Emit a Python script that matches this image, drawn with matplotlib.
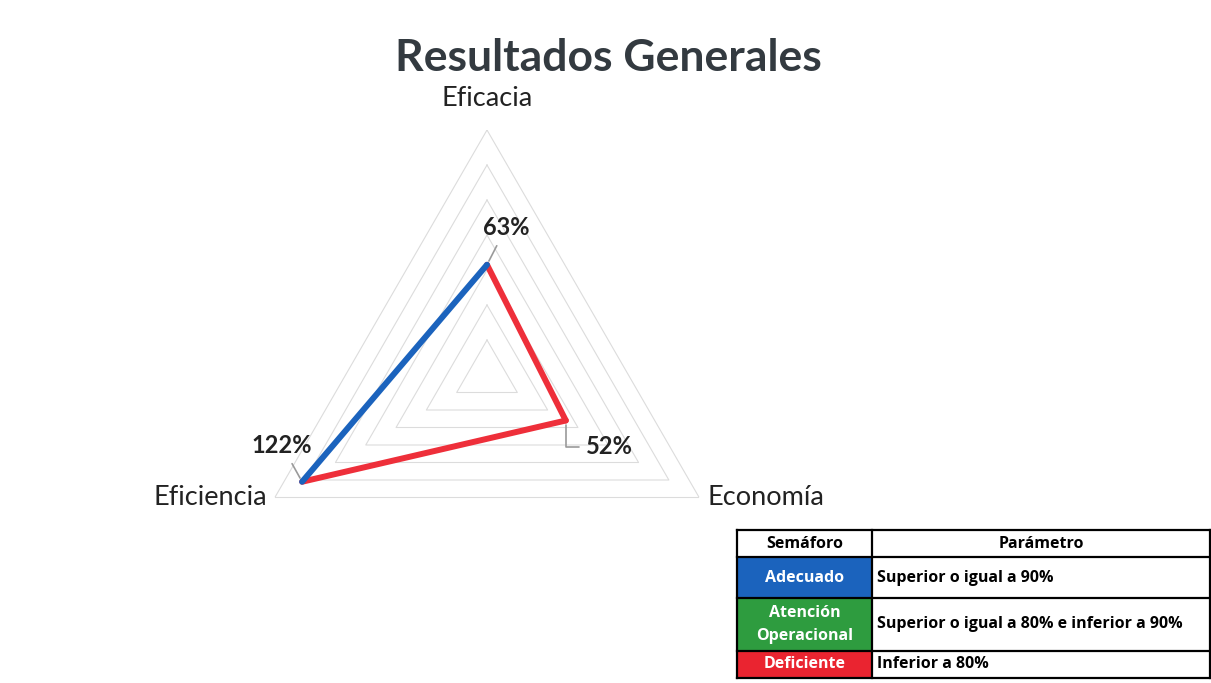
import numpy as np
import matplotlib.pyplot as plt
from matplotlib.patches import Rectangle

# Radar data
categories = ['Eficacia', 'Economía', 'Eficiencia']
values = [0.63, 0.52, 1.22]
value_labels = ['63%', '52%', '122%']
# colour of the segment that starts at each point
segment_colors = ['#ee2f3a', '#ee2f3a', '#1b63bd']
grid_levels = [0.2, 0.4, 0.6, 0.8, 1.0, 1.2, 1.4]

# Traffic-light table
table_header = ['Semáforo', 'Parámetro']
status_names = ['Adecuado', 'Atención\nOperacional', 'Deficiente']
status_colors = ['#1b63bd', '#2e9c3f', '#ea2430']
status_params = ['Superior o igual a 90%',
                 'Superior o igual a 80% e inferior a 90%',
                 'Inferior a 80%']

W, H = 1211, 683
fig = plt.figure(figsize=(W / 100, H / 100), dpi=100)
fig.patch.set_facecolor('white')

# polar axes: centre (487, 375) px, radius 245 px for 140%
cx, cy, R = 487, 375, 245
ax = fig.add_axes([(cx - R) / W, 1 - (cy + R) / H, 2 * R / W, 2 * R / H],
                  projection='polar')
ax.set_theta_zero_location('N')
ax.set_theta_direction(-1)
ax.set_ylim(0, grid_levels[-1])
ax.grid(False)
ax.spines['polar'].set_visible(False)
ax.set_xticks([])
ax.set_yticks([])
ax.patch.set_alpha(0)

angles = np.arange(len(categories)) * 2 * np.pi / len(categories)
closed = np.append(angles, angles[0])

for lev in grid_levels:
    ax.plot(closed, [lev] * len(closed), color='#dcdcdc', lw=0.8, zorder=1)

n = len(categories)
for i in range(n):
    j = (i + 1) % n
    ax.plot([angles[i], angles[j]], [values[i], values[j]],
            color=segment_colors[i], lw=4.3, solid_capstyle='round', zorder=3)

label_font = ['Lato', 'DejaVu Sans']
# category labels at the outer vertices
cat_offsets = [(0, 32, 'center'), (8, 0, 'left'), (-8, 0, 'right')]
for a, name, (dx, dy, ha) in zip(angles, categories, cat_offsets):
    ax.annotate(name, (a, grid_levels[-1]), xytext=(dx, dy),
                textcoords='offset pixels', ha=ha, va='center',
                fontsize=19.5, family=label_font, color='#222222')

# data labels with leader lines
lab_offsets = [(19, 37), (44, -26), (-20, 36)]
conn = ['arc3', 'angle,angleA=180,angleB=90,rad=0', 'arc3']
for a, v, txt, (dx, dy), cs in zip(angles, values, value_labels, lab_offsets, conn):
    ax.annotate(txt, (a, v), xytext=(dx, dy), textcoords='offset pixels',
                ha='center', va='center', fontsize=17, fontweight='bold',
                family=label_font, color='#222222', zorder=5,
                arrowprops=dict(arrowstyle='-', color='#9a9a9a', lw=1.2,
                                shrinkA=3, shrinkB=3, connectionstyle=cs))

fig.text(608 / W, 1 - 58 / H, 'Resultados Generales', ha='center',
         va='center', fontsize=32, fontweight='bold', family=label_font,
         color='#333a40')

# table drawn in pixel coordinates
tax = fig.add_axes([0, 0, 1, 1])
tax.set_xlim(0, W)
tax.set_ylim(H, 0)
tax.axis('off')
tax.patch.set_alpha(0)

x0, x1, x2 = 737, 872, 1210
row_edges = [530, 557, 598, 651, 678]
tfont = ['Open Sans', 'DejaVu Sans']
for k, txt in enumerate(table_header):
    xs = [x0, x1, x2]
    tax.text((xs[k] + xs[k + 1]) / 2, (row_edges[0] + row_edges[1]) / 2, txt,
             ha='center', va='center', fontsize=11.5, fontweight='bold',
             family=tfont, color='black')
for r, (nm, col, par) in enumerate(zip(status_names, status_colors, status_params)):
    ya, yb = row_edges[r + 1], row_edges[r + 2]
    tax.add_patch(Rectangle((x0, ya), x1 - x0, yb - ya, facecolor=col,
                            edgecolor='none'))
    tax.text((x0 + x1) / 2, (ya + yb) / 2, nm, ha='center', va='center',
             fontsize=11.5, fontweight='bold', family=tfont, color='white',
             linespacing=1.6)
    tax.text(x1 + 5, (ya + yb) / 2, par, ha='left', va='center',
             fontsize=11.5, fontweight='bold', family=tfont, color='black')
for y in row_edges:
    tax.plot([x0, x2], [y, y], color='black', lw=1.6)
for x in [x0, x1, x2]:
    tax.plot([x, x], [row_edges[0], row_edges[-1]], color='black', lw=1.6)

fig.savefig('out.png', dpi=100, facecolor='white')
